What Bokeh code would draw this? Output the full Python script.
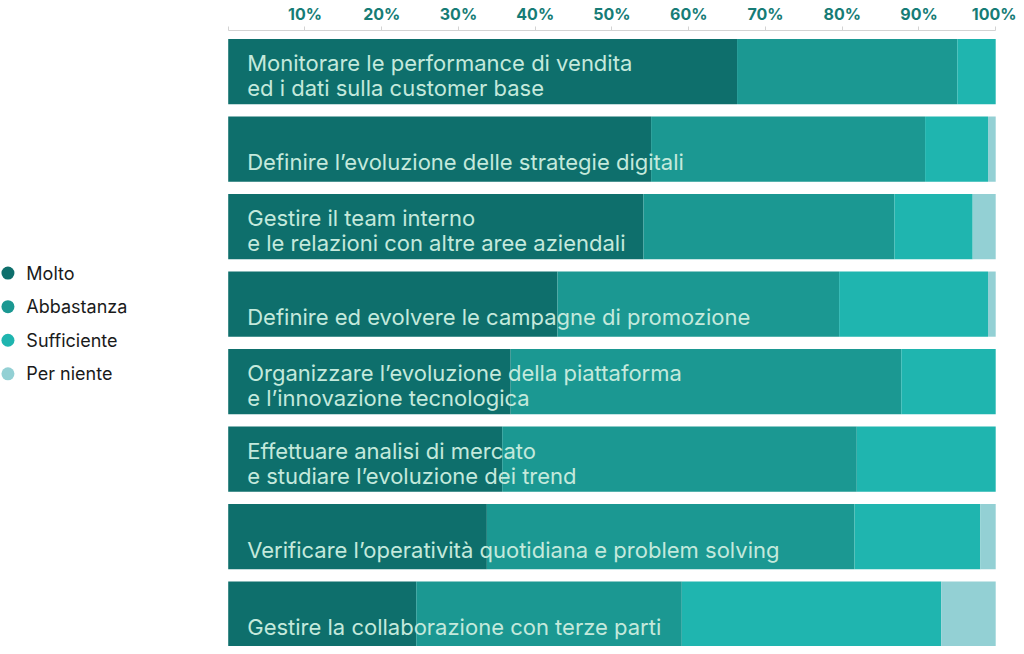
from bokeh.plotting import figure
from bokeh.models import ColumnDataSource, Range1d, LinearAxis, FixedTicker
from bokeh.core.properties import value
from bokeh.embed import file_html
from bokeh.resources import INLINE

# ---- data ----
categories = [
    "Monitorare le performance di vendita\ned i dati sulla customer base",
    "Definire l\u2019evoluzione delle strategie digitali",
    "Gestire il team interno\ne le relazioni con altre aree aziendali",
    "Definire ed evolvere le campagne di promozione",
    "Organizzare l\u2019evoluzione della piattaforma\ne l\u2019innovazione tecnologica",
    "Effettuare analisi di mercato\ne studiare l\u2019evoluzione dei trend",
    "Verificare l\u2019operatività quotidiana e problem solving",
    "Gestire la collaborazione con terze parti",
]
molto       = [66.3, 55.1, 54.1, 42.9, 36.8, 35.7, 33.7, 24.5]
abbastanza  = [28.7, 35.7, 32.7, 36.7, 50.9, 46.2, 47.9, 34.6]
sufficiente = [5.0,  8.2,  10.2, 19.4, 12.3, 18.1, 16.4, 33.8]
per_niente  = [0.0,  1.0,  3.0,  1.0,  0.0,  0.0,  2.0,  7.1]
series_names = ["Molto", "Abbastanza", "Sufficiente", "Per niente"]
tick_values = [0, 10, 20, 30, 40, 50, 60, 70, 80, 90, 100]

# ---- style ----
COLORS = ["#0e6f6c", "#1b9892", "#1fb5af", "#93d0d4"]
TEXT_ON_BAR = "#c4e9dc"
TICK_COLOR = "#167c76"
FONT = "Inter"

W, H = 1016, 646
PX_PER_ROW = 77.51
BAR_PX = 65.2

ys = list(range(len(categories)))
src = ColumnDataSource(dict(
    y=ys, molto=molto, abbastanza=abbastanza,
    sufficiente=sufficiente, per_niente=per_niente,
))

p = figure(width=W, height=H, output_backend="svg", toolbar_location=None,
           x_range=Range1d(-29.67, 102.71),
           y_range=Range1d(7.417, -0.530),
           x_axis_location=None, y_axis_location=None,
           min_border=0, min_border_top=0, min_border_left=0,
           min_border_right=0, min_border_bottom=0,
           outline_line_color=None, background_fill_color="white",
           border_fill_color="white")
p.grid.visible = False

p.hbar_stack(["molto", "abbastanza", "sufficiente", "per_niente"], y="y",
             height=BAR_PX / PX_PER_ROW, color=COLORS, line_color=None, source=src)

# top axis
ax = LinearAxis(ticker=FixedTicker(ticks=tick_values), bounds=(0, 100))
ax.major_label_overrides = {t: ("" if t == 0 else f"{t}%") for t in tick_values}
ax.major_label_text_font = FONT
ax.major_label_text_font_size = "16px"
ax.major_label_text_font_style = "bold"
ax.major_label_text_color = TICK_COLOR
ax.major_label_standoff = 3
ax.major_tick_in = 0
ax.major_tick_out = 4
ax.major_tick_line_color = "#d3d3d3"
ax.axis_line_color = "#d3d3d3"
ax.minor_tick_line_color = None
p.add_layout(ax, "above")

# bar labels
line1_y, line1_t, line2_y, line2_t, single_y, single_t = [], [], [], [], [], []
for i, c in enumerate(categories):
    parts = c.split("\n")
    if len(parts) == 2:
        line1_y.append(i); line1_t.append(parts[0])
        line2_y.append(i); line2_t.append(parts[1])
    else:
        single_y.append(i); single_t.append(parts[0])

common = dict(text_font=value(FONT), text_font_size="22px",
              text_color=TEXT_ON_BAR, text_baseline="alphabetic",
              text_align="left", x_offset=19)
p.text(x=[0] * len(line1_y), y=line1_y, text=line1_t, y_offset=-8.5, **common)
p.text(x=[0] * len(line2_y), y=line2_y, text=line2_t, y_offset=16.5, **common)
p.text(x=[0] * len(single_y), y=single_y, text=single_t, y_offset=13, **common)

# legend (manual, in the left margin)
LEG_X_DOT, LEG_X_TXT = -28.7, -26.3
LEG_Y0, LEG_STEP = 2.60, 0.433
leg_y = [LEG_Y0 + k * LEG_STEP for k in range(len(series_names))]
p.scatter(x=[LEG_X_DOT] * 4, y=leg_y, size=13, color=COLORS, line_color=None)
p.text(x=[LEG_X_TXT] * 4, y=leg_y, text=series_names,
       text_font=value(FONT), text_font_size="18px", text_color="#1a1a1a",
       text_baseline="middle", text_align="left")

open("out.html", "w").write(file_html(p, INLINE))
